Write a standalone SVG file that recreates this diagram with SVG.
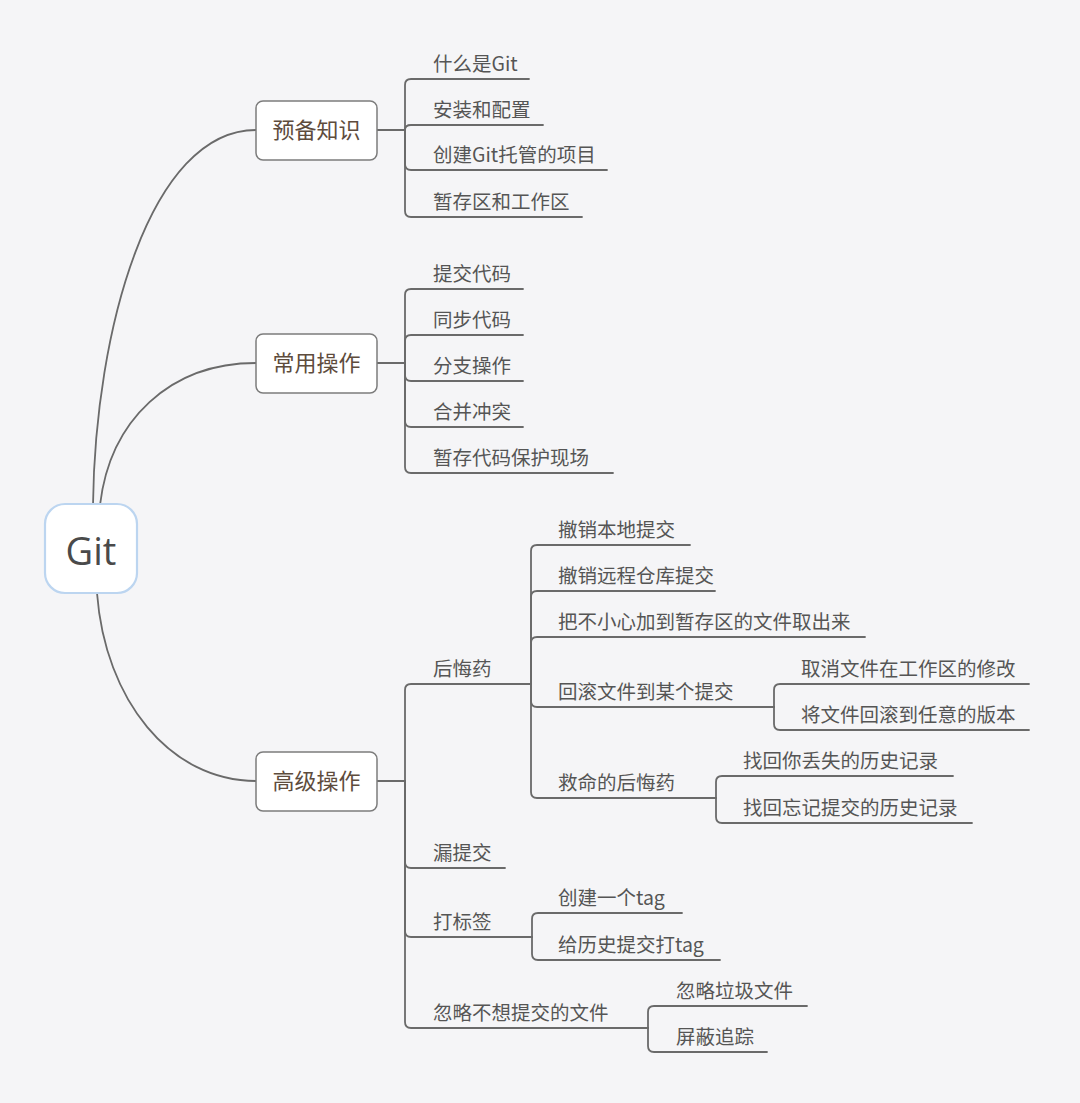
<svg xmlns="http://www.w3.org/2000/svg" width="1080" height="1103" viewBox="0 0 1080 1103">
<style>
.bg{fill:#f5f5f7}
.ln{fill:none;stroke:#6a6a6a;stroke-width:1.8;stroke-linecap:round}
.node{fill:#ffffff;stroke:#7c7c7c;stroke-width:1.5}
.root{fill:#ffffff;stroke:#bcd5f0;stroke-width:2.2}
.nt{font-family:"Noto Sans CJK SC","Noto Sans",sans-serif;font-size:22px;fill:#5e4c3d;text-anchor:middle}
.ct{font-family:"Noto Sans CJK SC","Noto Sans",sans-serif;font-size:19.5px;fill:#555555}
.rt{font-family:"Open Sans","Noto Sans",sans-serif;font-size:38px;fill:#4a4a4a;text-anchor:middle}
</style>
<rect class="bg" x="0" y="0" width="1080" height="1103"/>
<g id="connectors">
<path class="ln" d="M93,505 C95,330 150,130 256,130"/>
<path class="ln" d="M100,505 C110,420 170,363 256,363"/>
<path class="ln" d="M97,593 C105,700 170,781 256,781"/>
<path class="ln" d="M377,130 H405"/>
<path class="ln" d="M405,130 V85 Q405,79 411,79 H529"/>
<path class="ln" d="M405,130 Q405,125 411,125 H543"/>
<path class="ln" d="M405,130 V164 Q405,170 411,170 H607"/>
<path class="ln" d="M405,130 V211 Q405,217 411,217 H582"/>
<path class="ln" d="M377,363 H405"/>
<path class="ln" d="M405,363 V295 Q405,289 411,289 H523"/>
<path class="ln" d="M405,363 V341 Q405,335 411,335 H523"/>
<path class="ln" d="M405,363 V375 Q405,381 411,381 H523"/>
<path class="ln" d="M405,363 V421 Q405,427 411,427 H523"/>
<path class="ln" d="M405,363 V467 Q405,473 411,473 H613"/>
<path class="ln" d="M377,781 H405"/>
<path class="ln" d="M405,781 V690 Q405,684 411,684 H531"/>
<path class="ln" d="M405,781 V862 Q405,868 411,868 H505"/>
<path class="ln" d="M405,781 V931 Q405,937 411,937 H532"/>
<path class="ln" d="M405,781 V1022 Q405,1028 411,1028 H648"/>
<path class="ln" d="M531,684 V551 Q531,545 537,545 H690"/>
<path class="ln" d="M531,684 V597 Q531,591 537,591 H715"/>
<path class="ln" d="M531,684 V643 Q531,637 537,637 H865"/>
<path class="ln" d="M531,684 V701 Q531,707 537,707 H774"/>
<path class="ln" d="M531,684 V792 Q531,798 537,798 H716"/>
<path class="ln" d="M774,707 V690 Q774,684 780,684 H1029"/>
<path class="ln" d="M774,707 V724 Q774,730 780,730 H1029"/>
<path class="ln" d="M716,798 V782 Q716,776 722,776 H953"/>
<path class="ln" d="M716,798 V817 Q716,823 722,823 H972"/>
<path class="ln" d="M532,937 V919 Q532,913 538,913 H682"/>
<path class="ln" d="M532,937 V954 Q532,960 538,960 H720"/>
<path class="ln" d="M648,1028 V1012 Q648,1006 654,1006 H807"/>
<path class="ln" d="M648,1028 V1046 Q648,1052 654,1052 H767"/>
</g>
<g id="root"><rect class="root" x="45" y="504" width="92" height="89" rx="20"/><text class="rt" x="91" y="565">Git</text></g>
<g id="n1"><rect class="node" x="256" y="101" width="121" height="59" rx="7"/><text class="nt" x="316.5" y="138">预备知识</text></g>
<g id="n2"><rect class="node" x="256" y="334" width="121" height="59" rx="7"/><text class="nt" x="316.5" y="371">常用操作</text></g>
<g id="n3"><rect class="node" x="256" y="752" width="121" height="59" rx="7"/><text class="nt" x="316.5" y="789">高级操作</text></g>
<g id="n1c1"><text class="ct" x="433" y="71">什么是Git</text></g>
<g id="n1c2"><text class="ct" x="433" y="117">安装和配置</text></g>
<g id="n1c3"><text class="ct" x="433" y="162">创建Git托管的项目</text></g>
<g id="n1c4"><text class="ct" x="433" y="209">暂存区和工作区</text></g>
<g id="n2c1"><text class="ct" x="433" y="281">提交代码</text></g>
<g id="n2c2"><text class="ct" x="433" y="327">同步代码</text></g>
<g id="n2c3"><text class="ct" x="433" y="373">分支操作</text></g>
<g id="n2c4"><text class="ct" x="433" y="419">合并冲突</text></g>
<g id="n2c5"><text class="ct" x="433" y="465">暂存代码保护现场</text></g>
<g id="n3c1"><text class="ct" x="433" y="676">后悔药</text></g>
<g id="n3c2"><text class="ct" x="433" y="860">漏提交</text></g>
<g id="n3c3"><text class="ct" x="433" y="929">打标签</text></g>
<g id="n3c4"><text class="ct" x="433" y="1020">忽略不想提交的文件</text></g>
<g id="h1"><text class="ct" x="558" y="537">撤销本地提交</text></g>
<g id="h2"><text class="ct" x="558" y="583">撤销远程仓库提交</text></g>
<g id="h3"><text class="ct" x="558" y="629">把不小心加到暂存区的文件取出来</text></g>
<g id="h4"><text class="ct" x="558" y="699">回滚文件到某个提交</text></g>
<g id="h5"><text class="ct" x="558" y="790">救命的后悔药</text></g>
<g id="h4a"><text class="ct" x="801" y="676">取消文件在工作区的修改</text></g>
<g id="h4b"><text class="ct" x="801" y="722">将文件回滚到任意的版本</text></g>
<g id="h5a"><text class="ct" x="743" y="768">找回你丢失的历史记录</text></g>
<g id="h5b"><text class="ct" x="743" y="815">找回忘记提交的历史记录</text></g>
<g id="t1"><text class="ct" x="558" y="905">创建一个tag</text></g>
<g id="t2"><text class="ct" x="558" y="952">给历史提交打tag</text></g>
<g id="i1"><text class="ct" x="676" y="998">忽略垃圾文件</text></g>
<g id="i2"><text class="ct" x="676" y="1044">屏蔽追踪</text></g>
</svg>
